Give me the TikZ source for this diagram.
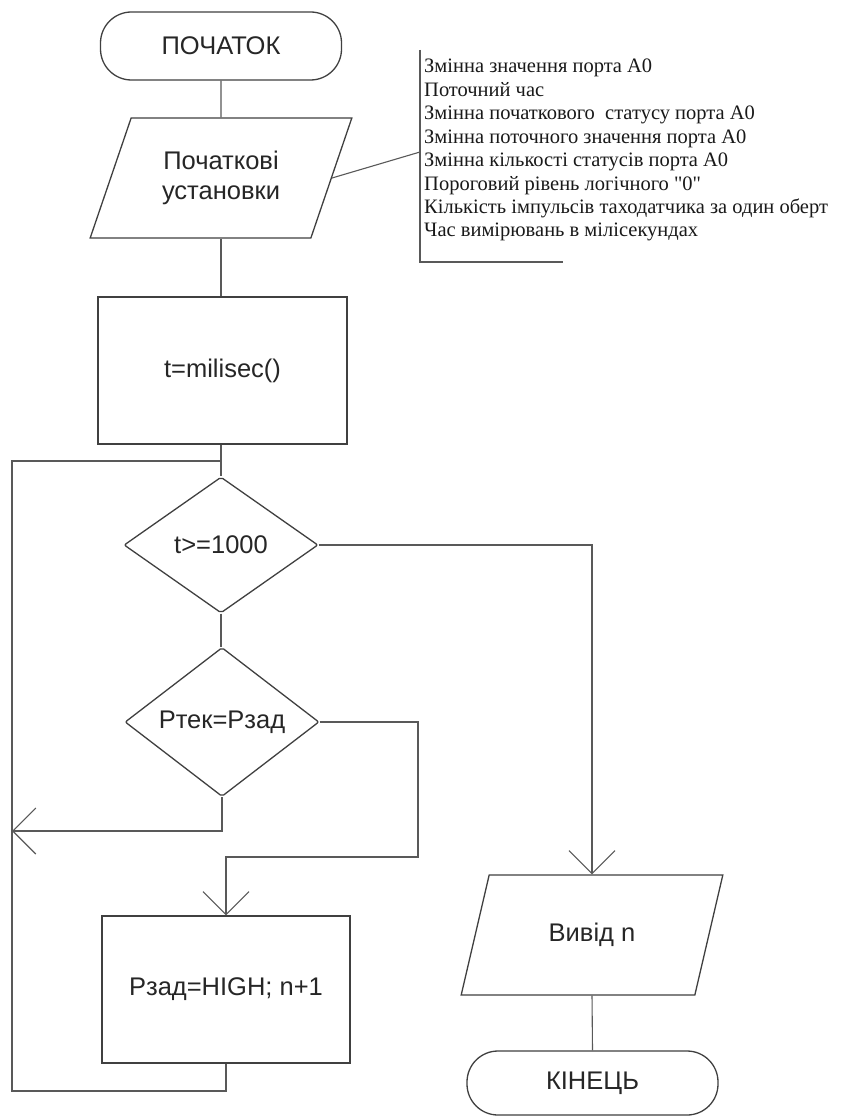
\documentclass[tikz,border=0pt]{standalone}
\usepackage{fontspec}
\setmainfont{Liberation Serif}
\newfontfamily\arialf{Liberation Sans}
\newfontfamily\notef{Liberation Serif}
\usetikzlibrary{shapes.geometric,arrows.meta}
\begin{document}
\begin{tikzpicture}[x=1pt,y=-1pt,
 shp/.style={draw=black!75, line width=1.3pt, font=\arialf\fontsize{25.5}{30}\selectfont, text=black!85, align=center, inner sep=0pt},
 term/.style={shp, rectangle, rounded corners=31pt, minimum height=68pt},
 procbox/.style={shp, rectangle, minimum width=249pt, minimum height=147pt},
 dec/.style={shp, diamond, minimum width=194pt, minimum height=136pt, rounded corners=2pt},
 io/.style={shp, trapezium, trapezium left angle=63.43, trapezium right angle=116.57, trapezium stretches=true, minimum width=262pt, minimum height=120pt},
 con/.style={draw=black!65, line width=1.1pt},
 arr/.style={con, -{Straight Barb[length=23pt,width=46pt]}},
 note/.style={font=\notef\fontsize{20.5}{23.4}\selectfont, text=black!90, inner sep=0pt, anchor=base west}]
\fill[white] (0,0) rectangle (860,1118);
\useasboundingbox (0,0) rectangle (860,1118);
% nodes
\node[term, minimum width=241pt] (start) at (221,46) {ПОЧАТОК};
\node[io] (init) at (221,178) {Початкові\\установки};
\node[procbox] (timer) at (222.5,370.5) {t=milisec()};
\node[dec] (d1) at (221,545) {t>=1000};
\node[dec] (d2) at (222,722) {Ртек=Рзад};
\node[procbox, minimum width=248pt] (proc) at (226,989.5) {Рзад=HIGH; n+1};
\node[io] (out) at (592,935) {Вивід n};
\node[term, minimum width=251pt, minimum height=64pt] (end) at (592.5,1083) {КІНЕЦЬ};
% coordinates
\coordinate (J) at (221,461);
\coordinate (loopL) at (12,461);
\coordinate (lb) at (12,1091);
\coordinate (lin) at (12,831);
\coordinate (r2) at (418,857);
\coordinate (bt) at (420,50);
\coordinate (bb) at (420,262);
\coordinate (be) at (563,262);
\coordinate (bm) at (420,152);
% connectors
\draw[con] (start.south) -- (init.north);
\draw[con] (init.south) -- (init.south |- timer.north);
\draw[con] (timer.south -| J) -- (J) -- (d1.north);
\draw[con] (proc.south) |- (lb) -- (loopL) -- (J);
\draw[con] (d1.south) -- (d1.south |- d2.north);
\draw[arr] (d2.south) |- (lin);
\draw[arr] (d2.east) -| (r2) -| (proc.north);
\draw[arr] (d1.east) -| (out.north);
\draw[con] (out.south) -- (end.north);
% annotation
\draw[con] (init.east) -- (bm);
\draw[con] (bt) -- (bb) -- (be);
\foreach \t [count=\i] in {Змінна значення порта A0, Поточний час, Змінна початкового\ \ статусу порта A0, Змінна поточного значення порта A0, Змінна кількості статусів порта A0, Пороговий рівень логічного "0", Кількість імпульсів таходатчика за один оберт, Час вимірювань в мілісекундах}
  \node[note] (n\i) at (424,{73+23.4*(\i-1)}) {\t};
\end{tikzpicture}
\end{document}
